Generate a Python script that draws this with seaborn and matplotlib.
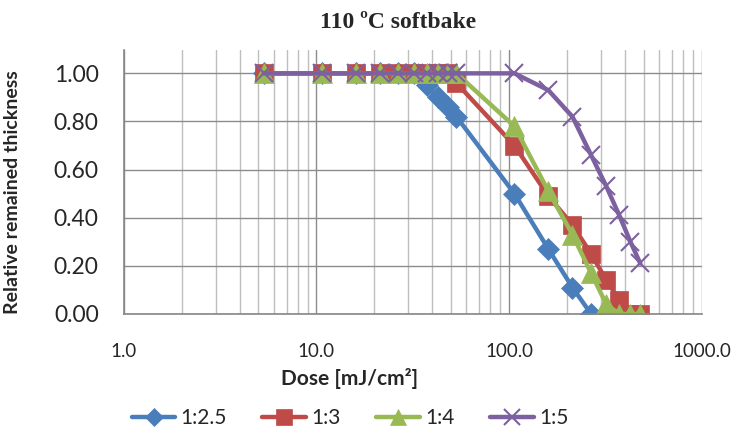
import matplotlib
matplotlib.use("Agg")
import matplotlib.pyplot as plt
import seaborn as sns
import pandas as pd
from matplotlib.ticker import FixedLocator, LogLocator, NullFormatter

dose = [5.33, 10.67, 16.0, 21.33, 26.67, 32.0, 37.33, 42.67, 48.0, 53.33,
        106.67, 160.0, 213.33, 266.67, 320.0, 373.33, 426.67, 480.0]
s_25 = [1, 1, 1, 1, 1, 1, 0.95, 0.90, 0.86, 0.82, 0.50, 0.27, 0.11, 0.00, 0.00]
s_3 = [1, 1, 1, 1, 1, 1, 1, 1, 1, 0.96, 0.70, 0.49, 0.37, 0.25, 0.14, 0.06, 0.00, 0.00]
s_4 = [1, 1, 1, 1, 1, 1, 1, 1, 1, 1, 0.78, 0.51, 0.33, 0.17, 0.04, 0.00, 0.00, 0.00]
s_5 = [1, 1, 1, 1, 1, 1, 1, 1, 1, 1, 1.00, 0.93, 0.82, 0.66, 0.53, 0.41, 0.30, 0.21]
names = ["1:2.5", "1:3", "1:4", "1:5"]
series = [s_25, s_3, s_4, s_5]
colors = ["#4A7EBB", "#BE4B48", "#98B954", "#7D60A0"]
markers = ["D", "s", "^", "x"]
msizes = [11, 13, 14, 13]

sns.set_style("white")
plt.rcParams["font.family"] = ["Lato", "DejaVu Sans"]

fig = plt.figure(figsize=(7.42, 4.30), dpi=100)
ax = fig.add_axes([0.1667, 0.2698, 0.779, 0.6139])

for name, vals, c, m, ms in zip(names, series, colors, markers, msizes):
    df = pd.DataFrame({"dose": dose[:len(vals)], "thk": vals})
    sns.lineplot(data=df, x="dose", y="thk", ax=ax, color=c, marker=m,
                 markersize=ms, linewidth=3.2, label=name,
                 markeredgecolor=c, markeredgewidth=1.5 if m == "x" else 0.5)

ax.set_xscale("log")
ax.set_xlim(1, 1000)
ax.set_ylim(0, 1.097)
yt = [0, 0.2, 0.4, 0.6, 0.8, 1.0]
ax.yaxis.set_major_locator(FixedLocator(yt))
ax.set_yticklabels([f"{v:.2f}" for v in yt])
ax.xaxis.set_major_locator(FixedLocator([1, 10, 100, 1000]))
ax.set_xticklabels(["1.0", "10.0", "100.0", "1000.0"])
ax.xaxis.set_minor_locator(LogLocator(base=10, subs=range(2, 10)))
ax.xaxis.set_minor_formatter(NullFormatter())

ax.grid(True, which="major", axis="both", color="#8C8C8C", linewidth=1.0)
ax.grid(True, which="minor", axis="x", color="#BEBEBE", linewidth=1.0)
ax.set_axisbelow(True)
for sp in ["top", "right"]:
    ax.spines[sp].set_visible(False)
for sp in ["left", "bottom"]:
    ax.spines[sp].set_color("#868686")
    ax.spines[sp].set_linewidth(1.2)
ax.tick_params(axis="both", which="major", direction="out", length=6,
               color="#868686")
ax.tick_params(axis="y", labelsize=16.5, pad=12)
ax.tick_params(axis="x", which="major", labelsize=13.5, pad=15)
ax.tick_params(axis="x", which="minor", length=0)

ax.set_xlabel("Dose [mJ/cm²]", fontsize=15, fontweight="bold")
ax.xaxis.set_label_coords(0.39, -0.205)
ax.set_ylabel("Relative remained thickness", fontsize=14, fontweight="bold")
ax.yaxis.set_label_coords(-0.178, 0.46)
fig.text(398 / 742, 1 - 22 / 430, "110 ºC softbake", fontsize=17, fontweight="bold",
         family=["Liberation Serif", "DejaVu Serif"], ha="center", va="center")

h, l = ax.get_legend_handles_labels()
ax.get_legend().remove()
fig.legend(h, l, loc="center", bbox_to_anchor=(350 / 742, 1 - 418 / 430), ncol=4,
           frameon=False, fontsize=15, handlelength=2.1, columnspacing=1.7,
           handletextpad=0.25, markerscale=0.85)

fig.savefig("out.png", dpi=100)
